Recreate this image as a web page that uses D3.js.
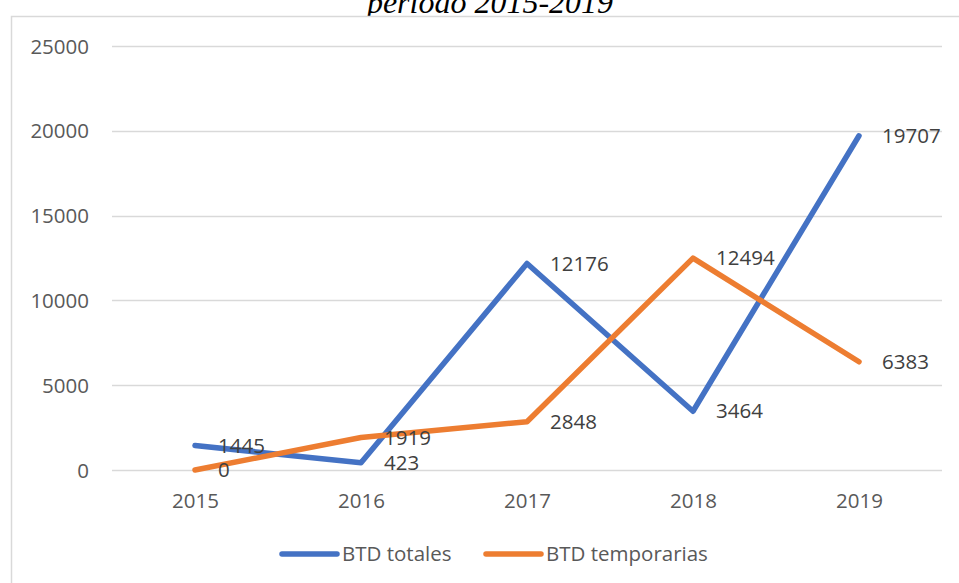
<!DOCTYPE html>
<html><head><meta charset="utf-8">
<script src="https://cdn.jsdelivr.net/npm/d3@7"></script>
<style>html,body{margin:0;padding:0;background:#fff;overflow:hidden}</style>
</head><body>
<svg id="c" width="959" height="583"></svg>
<script>
const years = ["2015","2016","2017","2018","2019"];
const btdTotales = [1445, 423, 12176, 3464, 19707];
const btdTemporarias = [0, 1919, 2848, 12494, 6383];
const yTicks = [0, 5000, 10000, 15000, 20000, 25000];
const seriesNames = ["BTD totales", "BTD temporarias"];
const seriesColors = ["#4472C4", "#ED7D31"];
const titleText = "período 2015-2019";

const svg = d3.select("#c");
const font = "'Open Sans', 'Liberation Sans', sans-serif";
const txt = "#595959";
const fs = 20.5;

// title (partially covered by chart area, as in the reference)
svg.append("text").attr("x", 490).attr("y", 13).attr("text-anchor", "middle")
  .attr("font-family", "'Liberation Serif', 'Times New Roman', serif")
  .attr("font-style", "italic").attr("font-size", 32).attr("fill", "#000").text(titleText);

svg.append("rect").attr("x", 11.5).attr("y", 16.5).attr("width", 1000).attr("height", 700)
  .attr("fill", "#fff").attr("stroke", "#d9d9d9").attr("stroke-width", 1.5);

const x = d3.scalePoint().domain(years).range([112, 942]).padding(0.5);
const y = d3.scaleLinear().domain([0, 25000]).range([470, 46]);

// gridlines
svg.append("g").selectAll("line").data(yTicks).join("line")
  .attr("x1", 112).attr("x2", 942)
  .attr("y1", d => Math.round(y(d)) + 0.5).attr("y2", d => Math.round(y(d)) + 0.5)
  .attr("stroke", "#d9d9d9").attr("stroke-width", 1.3);

// y axis labels
const yAxis = d3.axisLeft(y).tickValues(yTicks).tickSize(0).tickPadding(0).tickFormat(d3.format("d"));
const gy = svg.append("g").attr("transform", "translate(89,0)").call(yAxis);
gy.select(".domain").remove();
gy.selectAll("text").attr("font-family", font).attr("font-size", fs).attr("fill", txt).attr("dy", "0.35em");

// x axis labels
const xAxis = d3.axisBottom(x).tickSize(0).tickPadding(0);
const gx = svg.append("g").attr("transform", "translate(0,501)").call(xAxis);
gx.select(".domain").remove();
gx.selectAll("text").attr("font-family", font).attr("font-size", fs).attr("fill", txt).attr("dy", "0.35em");

const series = [btdTotales, btdTemporarias];
const line = d3.line().x((d, i) => x(years[i])).y(d => y(d));
series.forEach((s, k) => {
  svg.append("path").datum(s).attr("d", line).attr("fill", "none")
    .attr("stroke", seriesColors[k]).attr("stroke-width", 5.5)
    .attr("stroke-linecap", "round").attr("stroke-linejoin", "round");
});
series.forEach((s, k) => {
  svg.append("g").selectAll("text").data(s).join("text")
    .attr("x", (d, i) => x(years[i]) + 23).attr("y", d => y(d)).attr("dy", "0.35em")
    .attr("font-family", font).attr("font-size", fs).attr("fill", "#404040").text(d => d);
});

// legend
const legX = [282, 486];
seriesNames.forEach((n, k) => {
  svg.append("line").attr("x1", legX[k]).attr("x2", legX[k] + 55).attr("y1", 554).attr("y2", 554)
    .attr("stroke", seriesColors[k]).attr("stroke-width", 5.5).attr("stroke-linecap", "round");
  svg.append("text").attr("x", legX[k] + 60).attr("y", 554).attr("dy", "0.35em")
    .attr("font-family", font).attr("font-size", fs).attr("fill", txt).text(n);
});
</script>
</body></html>
